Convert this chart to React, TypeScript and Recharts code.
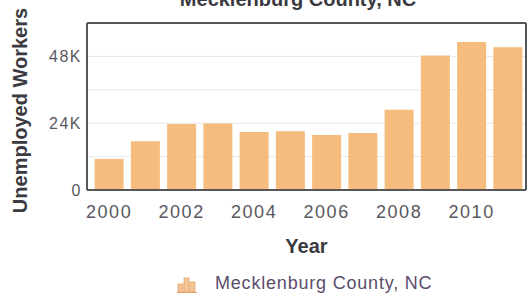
import { BarChart, Bar, XAxis, YAxis, CartesianGrid, Legend } from "recharts";

const years = ["2000", "2001", "2002", "2003", "2004", "2005", "2006", "2007", "2008", "2009", "2010", "2011"];
const unemployed = [11200, 17500, 23700, 23900, 20800, 21100, 19800, 20500, 28800, 48300, 53200, 51300];
const yTicks = [0, 12000, 24000, 36000, 48000, 60000];
const seriesName = "Mecklenburg County, NC";

const data = years.map((year, i) => ({ year, workers: unemployed[i] }));

const FONT = '"Liberation Sans", Arial, sans-serif';
const FRAME = { stroke: "#55565c", strokeWidth: 2 };

const formatY = (v: number) => (v % 24000 === 0 ? (v === 0 ? "0" : `${v / 1000}K`) : "");

const YLabel = ({ viewBox }: any) => {
  const cx = viewBox.x + 20;
  const cy = viewBox.y + viewBox.height / 2 + 4;
  return (
    <text
      x={cx}
      y={cy}
      transform={`rotate(-90 ${cx} ${cy})`}
      textAnchor="middle"
      dominantBaseline="central"
      fill="#3a3a40"
      fontSize={20}
      fontWeight="bold"
      fontFamily={FONT}
    >
      Unemployed Workers
    </text>
  );
};

const LegendContent = () => (
  <svg width={526} height={30} style={{ display: "block" }}>
    <g fill="#f4c595" stroke="#e2a468" strokeWidth={0.8}>
      <rect x={178} y={19} width={5} height={8} />
      <rect x={184} y={13} width={5} height={14} />
      <rect x={190} y={17} width={5} height={10} />
    </g>
    <line x1={177} y1={27.5} x2={197} y2={27.5} stroke="#e2a468" />
    <text x={215} y={24} fill="#5b4d6b" fontSize={18} letterSpacing={0.8} fontFamily={FONT}>
      {seriesName}
    </text>
  </svg>
);

export default function App() {
  return (
    <div style={{ position: "absolute", left: 0, top: 0, width: 529, height: 295, fontFamily: FONT }}>
      <svg width={529} height={295} style={{ position: "absolute", left: 0, top: 0, pointerEvents: "none" }}>
        <text x={298} y={6} textAnchor="middle" fill="#3a3a40" fontSize={20} fontWeight="bold" fontFamily={FONT}>
          {seriesName}
        </text>
      </svg>
      <BarChart width={529} height={295} data={data} margin={{ top: 22, right: 2, bottom: 0, left: 0 }} barCategoryGap="10%">
        <CartesianGrid vertical={false} stroke="#e8e8ea" />
        <XAxis
          dataKey="year"
          height={75}
          interval={1}
          padding={{ left: 4, right: 0 }}
          tickLine={false}
          tickSize={0}
          tickMargin={15}
          axisLine={FRAME}
          tick={{ fill: "#58585e", fontSize: 18, letterSpacing: 1.5, fontFamily: FONT }}
          label={{ value: "Year", position: "insideBottom", offset: 12, fill: "#3a3a40", fontSize: 20, fontWeight: "bold", fontFamily: FONT }}
        />
        {/* top and right edges of the plot frame */}
        <XAxis xAxisId="top" orientation="top" dataKey="year" height={1} tick={false} tickLine={false} axisLine={FRAME} />
        <YAxis
          width={87}
          domain={[0, 60000]}
          ticks={yTicks}
          tickFormatter={formatY}
          tickLine={false}
          tickSize={0}
          tickMargin={5}
          axisLine={FRAME}
          tick={{ fill: "#58585e", fontSize: 16, letterSpacing: 1.5, fontFamily: FONT }}
          label={YLabel}
        />
        <YAxis yAxisId="right" orientation="right" width={1} domain={[0, 60000]} tick={false} tickLine={false} axisLine={FRAME} />
        <Legend verticalAlign="bottom" align="left" content={LegendContent} />
        <Bar dataKey="workers" name={seriesName} fill="#f5bc7e" isAnimationActive={false} />
      </BarChart>
    </div>
  );
}
